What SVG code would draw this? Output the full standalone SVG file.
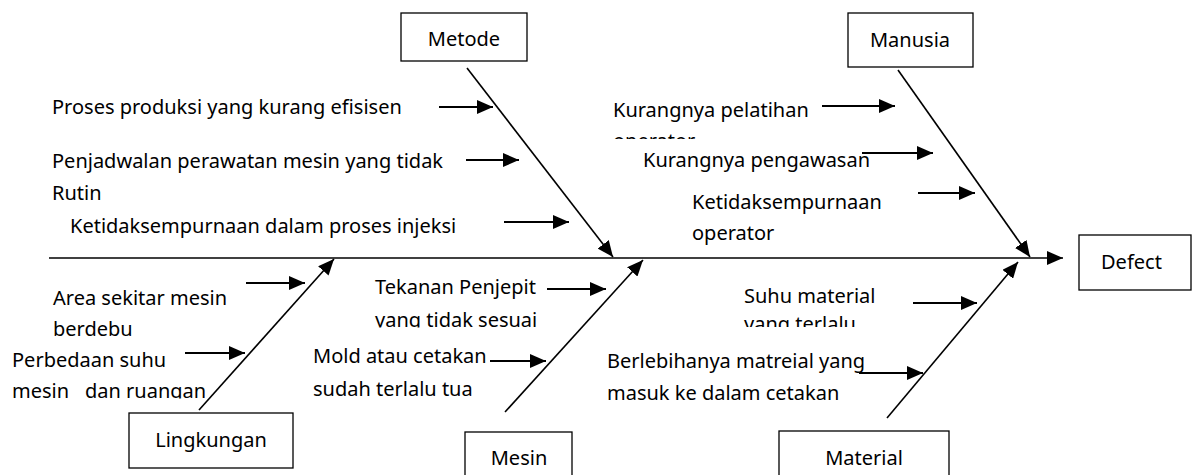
<svg xmlns="http://www.w3.org/2000/svg" width="1195" height="475" viewBox="0 0 1195 475">
<style>
text{font-family:"Noto Sans","Open Sans","DejaVu Sans",sans-serif;font-size:20px;fill:#000}
.box{fill:#fff;stroke:#000;stroke-width:1.3}
.mid{text-anchor:middle}
.bone{stroke:#000;stroke-width:1.6;fill:none}
.arr{stroke:#000;stroke-width:2;fill:none}
</style>
<defs>
<marker id="ah" viewBox="0 0 16 14" refX="16" refY="7" markerWidth="16" markerHeight="14" markerUnits="userSpaceOnUse" orient="auto">
<path d="M0,0 L16,7 L0,14 Z" fill="#000"/>
</marker>
<clipPath id="c1"><rect x="600" y="120" width="200" height="19"/></clipPath>
<clipPath id="c2"><rect x="360" y="300" width="200" height="27.5"/></clipPath>
<clipPath id="c3"><rect x="730" y="310" width="200" height="17"/></clipPath>
<clipPath id="c4"><rect x="0" y="370" width="220" height="28.5"/></clipPath>
</defs>

<g id="connectors">
<line class="bone" x1="49" y1="258" x2="1063" y2="258" stroke-width="2" marker-end="url(#ah)"/>
<line class="bone" x1="467" y1="68" x2="613" y2="257" marker-end="url(#ah)"/>
<line class="bone" x1="898" y1="70" x2="1030" y2="257" marker-end="url(#ah)"/>
<line class="bone" x1="199" y1="410" x2="334" y2="259" marker-end="url(#ah)"/>
<line class="bone" x1="505" y1="412" x2="643" y2="260" marker-end="url(#ah)"/>
<line class="bone" x1="887" y1="418" x2="1018" y2="262" marker-end="url(#ah)"/>
<line class="arr" x1="439" y1="107" x2="493" y2="107" marker-end="url(#ah)"/>
<line class="arr" x1="466" y1="160" x2="519" y2="160" marker-end="url(#ah)"/>
<line class="arr" x1="504" y1="222" x2="569" y2="222" marker-end="url(#ah)"/>
<line class="arr" x1="822" y1="106" x2="895" y2="106" marker-end="url(#ah)"/>
<line class="arr" x1="862" y1="153" x2="933" y2="153" marker-end="url(#ah)"/>
<line class="arr" x1="918" y1="193" x2="975" y2="193" marker-end="url(#ah)"/>
<line class="arr" x1="246" y1="283" x2="305" y2="283" marker-end="url(#ah)"/>
<line class="arr" x1="185" y1="353" x2="245" y2="353" marker-end="url(#ah)"/>
<line class="arr" x1="547" y1="289" x2="606" y2="289" marker-end="url(#ah)"/>
<line class="arr" x1="490" y1="361" x2="546" y2="361" marker-end="url(#ah)"/>
<line class="arr" x1="913" y1="303" x2="977" y2="303" marker-end="url(#ah)"/>
<line class="arr" x1="859" y1="373" x2="923" y2="373" marker-end="url(#ah)"/>
</g>

<g id="metode">
<rect class="box" x="401" y="13" width="126" height="48"/>
<text class="mid" x="464" y="46">Metode</text>
</g>
<g id="manusia">
<rect class="box" x="848" y="13" width="125" height="54"/>
<text class="mid" x="910" y="47">Manusia</text>
</g>
<g id="defect">
<rect class="box" x="1079" y="235" width="112" height="55"/>
<text x="1101" y="269">Defect</text>
</g>
<g id="lingkungan">
<rect class="box" x="129" y="413" width="164" height="55"/>
<text class="mid" x="211" y="447">Lingkungan</text>
</g>
<g id="mesin">
<rect class="box" x="465" y="432" width="107" height="50"/>
<text class="mid" x="519" y="465">Mesin</text>
</g>
<g id="material">
<rect class="box" x="779" y="431" width="170" height="50"/>
<text class="mid" x="864" y="465">Material</text>
</g>

<g id="metode-causes">
<text x="52" y="114">Proses produksi yang kurang efisisen</text>
<text x="52" y="168">Penjadwalan perawatan mesin yang tidak</text>
<text x="52" y="200">Rutin</text>
<text x="70" y="233">Ketidaksempurnaan dalam proses injeksi</text>
</g>
<g id="manusia-causes">
<text x="613" y="117">Kurangnya pelatihan</text>
<text x="613" y="148" clip-path="url(#c1)">operator</text>
<text x="643" y="167">Kurangnya pengawasan</text>
<text x="692" y="209">Ketidaksempurnaan</text>
<text x="692" y="240">operator</text>
</g>
<g id="lingkungan-causes">
<text x="53" y="305">Area sekitar mesin</text>
<text x="53" y="336">berdebu</text>
<text x="12" y="367">Perbedaan suhu</text>
<text y="398" clip-path="url(#c4)"><tspan x="12">mesin</tspan><tspan x="85">dan ruangan</tspan></text>
</g>
<g id="mesin-causes">
<text x="375" y="294">Tekanan Penjepit</text>
<text x="375" y="327" clip-path="url(#c2)">yang tidak sesuai</text>
<text x="313" y="363">Mold atau cetakan</text>
<text x="313" y="396">sudah terlalu tua</text>
</g>
<g id="material-causes">
<text x="744" y="303">Suhu material</text>
<text x="744" y="331" clip-path="url(#c3)">yang terlalu</text>
<text x="607" y="368">Berlebihanya matreial yang</text>
<text x="607" y="400">masuk ke dalam cetakan</text>
</g>
</svg>
